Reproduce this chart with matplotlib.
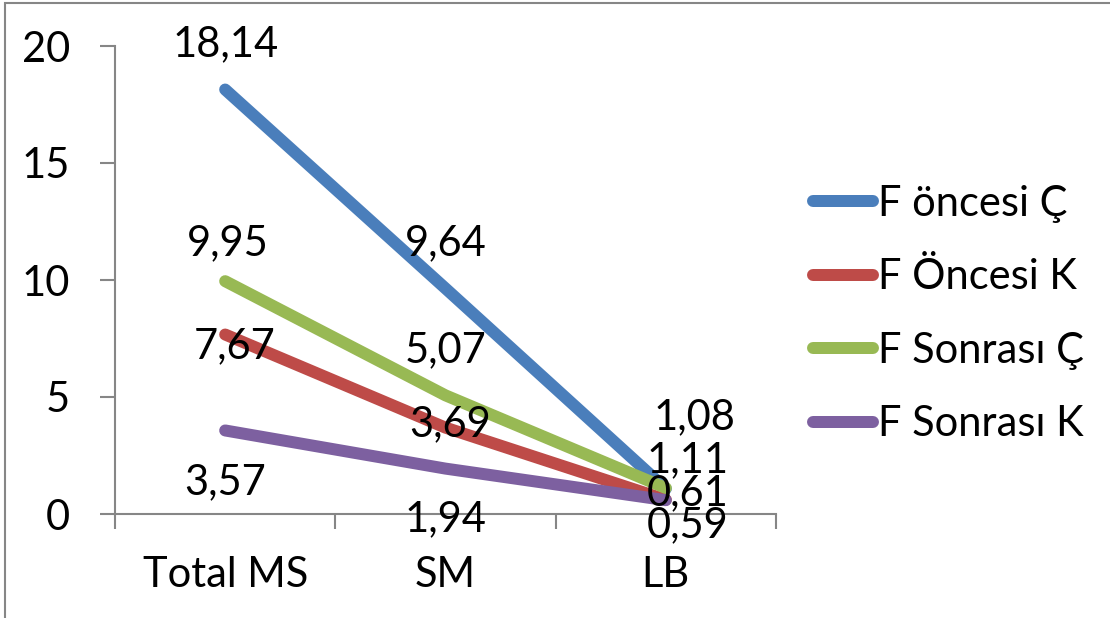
import numpy as np
import matplotlib.pyplot as plt
from matplotlib.patches import Rectangle

plt.rcParams['font.family'] = ['Lato', 'DejaVu Sans']

categories = ['Total MS', 'SM', 'LB']
series_names = ['F öncesi Ç', 'F Öncesi K', 'F Sonrası Ç', 'F Sonrası K']
oncesi_c = [18.14, 9.64, 1.08]
oncesi_k = [7.67, 3.69, 0.61]
sonrasi_c = [9.95, 5.07, 1.11]
sonrasi_k = [3.57, 1.94, 0.59]
y_ticks = [0, 5, 10, 15, 20]

colors = ['#4A7EBB', '#BE4B48', '#98B954', '#7D60A0']
# label offsets in pixels (dx, dy) for each point
offsets = [
    [(0, 45), (0, 45), (29, 72)],
    [(9, -12), (5, 3), (22, 7)],
    [(3, 38), (0, 45), (22, 28)],
    [(0, -52), (0, -51), (22, -25)],
]

W, H = 1110, 618
fig = plt.figure(figsize=(W / 100, H / 100), dpi=100)
ax = fig.add_axes([115 / W, 1 - 514 / H, 661 / W, 468 / H])

# outer chart border
fig.patches.append(Rectangle((5 / W, -0.1), 1.2, 1.1 - 3 / H, transform=fig.transFigure,
                             fill=False, edgecolor='#868686', linewidth=1.5))

x = np.arange(len(categories))
px = 0.72  # points per pixel at 100 dpi
fs = 30
for vals, name, col, offs in zip([oncesi_c, oncesi_k, sonrasi_c, sonrasi_k],
                                 series_names, colors, offsets):
    ax.plot(x, vals, color=col, lw=12 * px, solid_capstyle='round',
            solid_joinstyle='round', label=name)
    for xi, v, (dx, dy) in zip(x, vals, offs):
        ax.annotate(f'{v:.2f}'.replace('.', ','), (xi, v), xytext=(dx * px, dy * px),
                    textcoords='offset points', ha='center', va='center',
                    fontsize=fs, color='black', zorder=5)

ax.set_xlim(-0.5, 2.5)
ax.set_ylim(0, 20)
ax.set_yticks(y_ticks)
ax.set_xticks(x)
ax.set_xticklabels(categories)
ax.set_xticks([-0.5, 0.5, 1.5, 2.5], minor=True)

for s in ['top', 'right']:
    ax.spines[s].set_visible(False)
for s in ['left', 'bottom']:
    ax.spines[s].set_color('#868686')
    ax.spines[s].set_linewidth(1.5)

ax.tick_params(axis='y', length=15 * px, width=1.5, color='#868686', pad=30 * px, labelsize=fs)
ax.tick_params(axis='x', which='major', length=0, pad=42 * px, labelsize=fs)
ax.tick_params(axis='x', which='minor', length=15 * px, width=1.5, color='#868686')

fig.legend(loc='upper left', bbox_to_anchor=(813 / W, 1 - 185 / H), frameon=False,
           fontsize=fs, handlelength=1.45, handletextpad=0.12, labelspacing=0.85,
           borderaxespad=0, borderpad=0)

fig.savefig('out.png', dpi=100)
